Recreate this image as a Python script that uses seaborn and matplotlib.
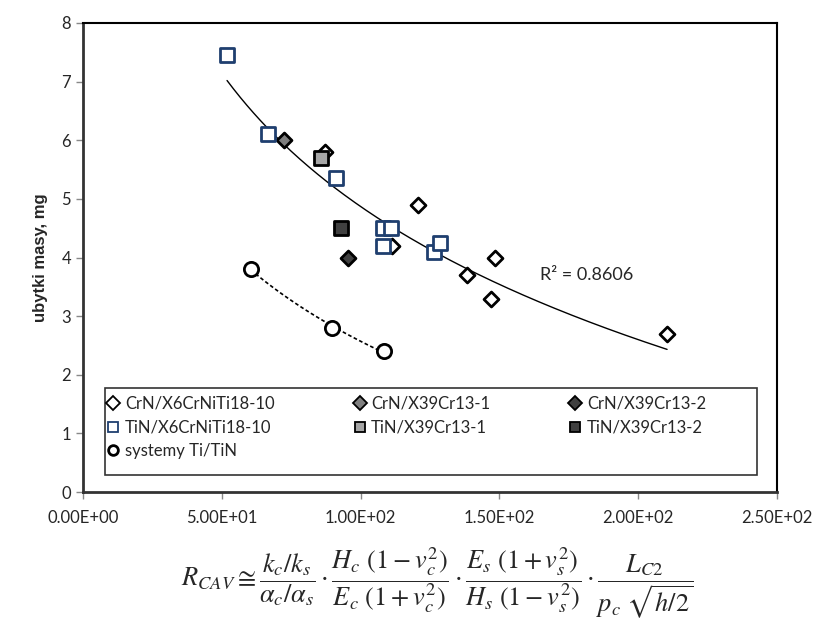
import matplotlib
matplotlib.use("Agg")
import matplotlib.pyplot as plt
from matplotlib.patches import Rectangle
import numpy as np
import seaborn as sns

# values
crn_x6_x = [87.2, 120.7, 111.3, 148.4, 138.3, 147.0, 210.4]
crn_x6_y = [5.80, 4.90, 4.19, 4.00, 3.71, 3.30, 2.70]
crn_x39_1_x = [72.4]
crn_x39_1_y = [6.01]
crn_x39_2_x = [95.5]
crn_x39_2_y = [4.00]
tin_x6_x = [51.9, 66.6, 91.1, 108.1, 110.9, 108.1, 126.4, 128.6]
tin_x6_y = [7.45, 6.10, 5.35, 4.50, 4.50, 4.20, 4.10, 4.25]
tin_x39_1_x = [85.7]
tin_x39_1_y = [5.70]
tin_x39_2_x = [92.9]
tin_x39_2_y = [4.50]
titin_x = [60.5, 89.7, 108.4]
titin_y = [3.80, 2.80, 2.40]

r2_label = "R² = 0.8606"
y_label = "ubytki masy, mg"

sns.set_theme(style="white")
plt.rcParams["font.family"] = ["Lato", "DejaVu Sans"]
plt.rcParams["mathtext.fontset"] = "stix"

fig = plt.figure(figsize=(8.15, 6.3), dpi=100)
ax = fig.add_axes([0.1018, 0.219, 0.8516, 0.7445])

navy = "#1f3f6f"
series = [
    ("CrN/X6CrNiTi18-10", crn_x6_x, crn_x6_y, "D", "white", "black", 58),
    ("CrN/X39Cr13-1", crn_x39_1_x, crn_x39_1_y, "D", "#7f7f7f", "black", 58),
    ("CrN/X39Cr13-2", crn_x39_2_x, crn_x39_2_y, "D", "#404040", "black", 58),
    ("TiN/X6CrNiTi18-10", tin_x6_x, tin_x6_y, "s", "white", navy, 105),
    ("TiN/X39Cr13-1", tin_x39_1_x, tin_x39_1_y, "s", "#a6a6a6", "black", 105),
    ("TiN/X39Cr13-2", tin_x39_2_x, tin_x39_2_y, "s", "#404040", "black", 105),
    ("systemy Ti/TiN", titin_x, titin_y, "o", "white", "black", 105),
]

handles = {}
for name, xs, ys, mk, fc, ec, size in series:
    sns.scatterplot(x=xs, y=ys, marker=mk, s=size, color=fc, edgecolor=ec,
                    linewidth=2.0, ax=ax, zorder=3)
    handles[name] = plt.Line2D([], [], linestyle="none", marker=mk, markersize=7,
                               markerfacecolor=fc, markeredgecolor=ec,
                               markeredgewidth=1.3 if mk != "o" else 2.0)

# logarithmic trend line (Excel style) through the coating/steel points
all_x = np.array(crn_x6_x + crn_x39_1_x + crn_x39_2_x + tin_x6_x + tin_x39_1_x + tin_x39_2_x)
all_y = np.array(crn_x6_y + crn_x39_1_y + crn_x39_2_y + tin_x6_y + tin_x39_1_y + tin_x39_2_y)
k, c = np.polyfit(np.log(all_x), all_y, 1)
fx = np.linspace(all_x.min(), all_x.max(), 200)
sns.lineplot(x=fx, y=c + k * np.log(fx), color="black", linewidth=1.0, ax=ax, zorder=2)

k2, c2 = np.polyfit(np.log(titin_x), titin_y, 1)
fx2 = np.linspace(min(titin_x), max(titin_x), 100)
sns.lineplot(x=fx2, y=c2 + k2 * np.log(fx2), color="black", linewidth=1.2,
             ax=ax, zorder=2)
ax.lines[-1].set_dashes((2.2, 1.5))

ax.text(164.5, 3.7, r2_label, fontsize=13, va="center", ha="left")

ax.set_xlim(0, 250)
ax.set_ylim(0, 8)
xticks = [0, 50, 100, 150, 200, 250]
ax.set_xticks(xticks)
ax.set_xticklabels(["%.2E" % v for v in xticks])
ax.set_yticks(range(0, 9))
ax.tick_params(axis="both", labelsize=12, direction="out", length=5, width=1,
               color="#888888", left=True, bottom=True)
ax.tick_params(axis="x", pad=8)
ax.set_ylabel(y_label, fontsize=12, fontweight="bold", family="Liberation Sans", labelpad=10)
ax.set_xlabel("")
for side in ["left", "bottom"]:
    ax.spines[side].set_color("#333333")
    ax.spines[side].set_linewidth(2.0)
for side in ["top", "right"]:
    ax.spines[side].set_color("black")
    ax.spines[side].set_linewidth(1.5)

# legend box
ax.add_patch(Rectangle((0.0317, 0.0362), 0.9395, 0.1855, transform=ax.transAxes,
                       facecolor="white", edgecolor="#333333", linewidth=1.2, zorder=4))
order = ["CrN/X6CrNiTi18-10", "TiN/X6CrNiTi18-10", "systemy Ti/TiN",
         "CrN/X39Cr13-1", "TiN/X39Cr13-1", "CrN/X39Cr13-2", "TiN/X39Cr13-2"]
leg = ax.legend([handles[k] for k in order], order, ncol=3, loc="upper left",
                bbox_to_anchor=(0.034, 0.205), fontsize=12, frameon=False,
                handlelength=0.8, handletextpad=0.3, columnspacing=4.7,
                borderaxespad=0, borderpad=0, labelspacing=0.45)
leg.set_zorder(5)

formula = (r"$R_{CAV} \cong \dfrac{k_c/k_s}{\alpha_c/\alpha_s}\cdot"
           r"\dfrac{H_c\ (1-v_c^2)}{E_c\ (1+v_c^2)}\cdot"
           r"\dfrac{E_s\ (1+v_s^2)}{H_s\ (1-v_s^2)}\cdot"
           r"\dfrac{L_{C2}}{p_c\ \sqrt{h/2}}$")
fig.text(0.537, 0.074, formula, fontsize=19, ha="center", va="center")

fig.savefig("out.png", dpi=100)
